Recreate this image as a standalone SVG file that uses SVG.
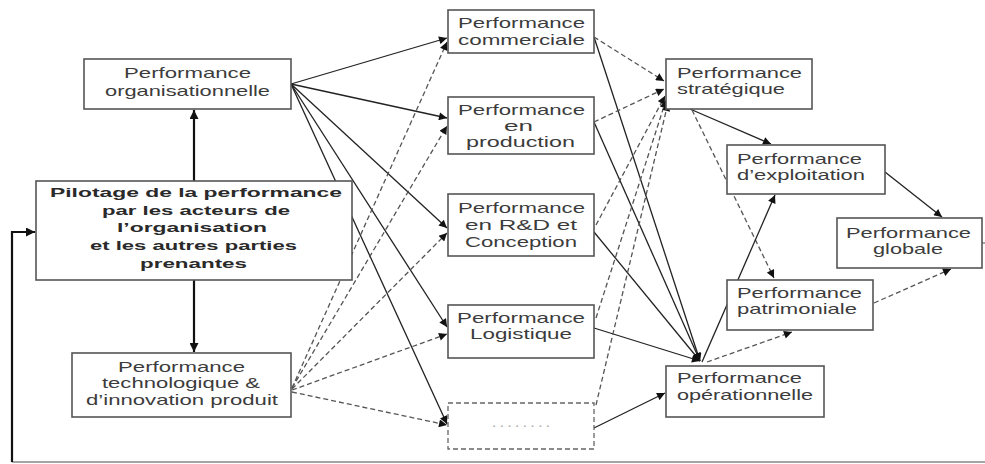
<svg xmlns="http://www.w3.org/2000/svg" width="985" height="464" viewBox="0 0 985 464">
  <style>
    .box { fill: #ffffff; stroke: #555555; stroke-width: 1.6; }
    .dbox { fill: #ffffff; stroke: #666666; stroke-width: 1.3; stroke-dasharray: 5 3; }
    .t { font-family: "Liberation Sans", Arial, sans-serif; font-size: 15px; fill: #3c3c3c; }
    .b { font-family: "Liberation Sans", Arial, sans-serif; font-size: 13.5px; font-weight: bold; fill: #2a2a2a; }
    .dots { font-family: "Liberation Sans", Arial, sans-serif; font-size: 15px; fill: #a8a8a8; }
    .solid { fill: none; stroke: #222222; stroke-width: 1.3; marker-end: url(#ah); }
    .dash { fill: none; stroke: #555555; stroke-width: 1.3; stroke-dasharray: 5 3; marker-end: url(#ah); }
    .thick { fill: none; stroke: #111111; stroke-width: 2.2; }
    .loop { fill: none; stroke: #888888; stroke-width: 1.5; }
  </style>
  <defs>
    <marker id="ah" viewBox="0 0 10 10" refX="10" refY="5" markerWidth="10" markerHeight="8" markerUnits="userSpaceOnUse" orient="auto">
      <path d="M0,0 L10,5 L0,10 z" fill="#111111"/>
    </marker>
    <marker id="ahb" viewBox="0 0 10 10" refX="10" refY="5" markerWidth="10" markerHeight="9" markerUnits="userSpaceOnUse" orient="auto">
      <path d="M0,0 L10,5 L0,10 z" fill="#111111"/>
    </marker>
  </defs>

  <rect width="985" height="464" fill="#ffffff"/>

  <!-- connectors -->
  <g id="connectors">
    <!-- steering box links -->
    <path class="thick" d="M194,181 V110" marker-end="url(#ahb)"/>
    <path class="thick" d="M194,280 V352" marker-end="url(#ahb)"/>
    <!-- feedback loop: right and bottom runs, then up the left side into the steering box -->
    <path class="loop" d="M982,243 H990 M990,462 H12"/>
    <path class="thick" d="M12,462 V232 H35" marker-end="url(#ahb)"/>

    <!-- organisational performance to functional performances -->
    <path class="solid" d="M291,84 L447,38"/>
    <path class="solid" d="M291,84 L447,118"/>
    <path class="solid" d="M291,84 L447,228"/>
    <path class="solid" d="M291,84 L447,327"/>
    <path class="solid" d="M291,84 L447,424"/>

    <!-- technological performance to functional performances -->
    <path class="dash" d="M292,388 L447,42"/>
    <path class="dash" d="M292,388 L447,126"/>
    <path class="dash" d="M292,389 L447,233"/>
    <path class="dash" d="M292,390 L447,334"/>
    <path class="dash" d="M292,392 L447,425"/>

    <!-- functional performances to operational performance -->
    <path class="solid" d="M594,37 L700,361"/>
    <path class="solid" d="M594,122 L700,361"/>
    <path class="solid" d="M594,232 L700,361"/>
    <path class="solid" d="M594,328 L700,361"/>
    <path class="solid" d="M594,428 L665,393"/>

    <!-- functional performances to strategic performance -->
    <path class="dash" d="M594,37 L664,81"/>
    <path class="dash" d="M594,122 L664,89"/>
    <path class="dash" d="M596,225 L665,96"/>
    <path class="dash" d="M596,318 L666,100"/>
    <path class="dash" d="M596,405 L668,103"/>

    <!-- right-hand side -->
    <path class="solid" d="M690,109 L771,144"/>
    <path class="dash" d="M692,110 L774,278"/>
    <path class="solid" d="M702,362 L775,195"/>
    <path class="dash" d="M707,362 L792,332"/>
    <path class="solid" d="M885,172 L942,217"/>
    <path class="dash" d="M874,303 L951,269"/>
  </g>

  <!-- nodes -->
  <g id="perf-organisationnelle">
    <rect class="box" x="84" y="59" width="207" height="50"/>
    <text class="t" x="124" y="78" textLength="127" lengthAdjust="spacingAndGlyphs">Performance</text>
    <text class="t" x="105" y="96" textLength="165" lengthAdjust="spacingAndGlyphs">organisationnelle</text>
  </g>

  <g id="pilotage">
    <rect class="box" x="36" y="181" width="316" height="99"/>
    <text class="b" x="50" y="197" textLength="292" lengthAdjust="spacingAndGlyphs">Pilotage de la performance</text>
    <text class="b" x="102" y="215" textLength="188" lengthAdjust="spacingAndGlyphs">par les acteurs de</text>
    <text class="b" x="117" y="232" textLength="150" lengthAdjust="spacingAndGlyphs">l’organisation</text>
    <text class="b" x="90" y="250" textLength="207" lengthAdjust="spacingAndGlyphs">et les autres parties</text>
    <text class="b" x="140" y="268" textLength="107" lengthAdjust="spacingAndGlyphs">prenantes</text>
  </g>

  <g id="perf-technologique">
    <rect class="box" x="72" y="353" width="219" height="64"/>
    <text class="t" x="118" y="372" textLength="127" lengthAdjust="spacingAndGlyphs">Performance</text>
    <text class="t" x="102" y="388" textLength="158" lengthAdjust="spacingAndGlyphs">technologique &amp;</text>
    <text class="t" x="86" y="405" textLength="192" lengthAdjust="spacingAndGlyphs">d’innovation produit</text>
  </g>

  <g id="perf-commerciale">
    <rect class="box" x="448" y="10" width="146" height="43"/>
    <text class="t" x="458" y="28" textLength="127" lengthAdjust="spacingAndGlyphs">Performance</text>
    <text class="t" x="458" y="45" textLength="127" lengthAdjust="spacingAndGlyphs">commerciale</text>
  </g>

  <g id="perf-production">
    <rect class="box" x="448" y="97" width="146" height="57"/>
    <text class="t" x="458" y="115" textLength="127" lengthAdjust="spacingAndGlyphs">Performance</text>
    <text class="t" x="504" y="131" textLength="29" lengthAdjust="spacingAndGlyphs">en</text>
    <text class="t" x="466" y="147" textLength="109" lengthAdjust="spacingAndGlyphs">production</text>
  </g>

  <g id="perf-rd">
    <rect class="box" x="448" y="194" width="146" height="62"/>
    <text class="t" x="458" y="213" textLength="127" lengthAdjust="spacingAndGlyphs">Performance</text>
    <text class="t" x="465" y="230" textLength="112" lengthAdjust="spacingAndGlyphs">en R&amp;D et</text>
    <text class="t" x="465" y="247" textLength="112" lengthAdjust="spacingAndGlyphs">Conception</text>
  </g>

  <g id="perf-logistique">
    <rect class="box" x="448" y="305" width="146" height="53"/>
    <text class="t" x="457" y="323" textLength="128" lengthAdjust="spacingAndGlyphs">Performance</text>
    <text class="t" x="470" y="339" textLength="102" lengthAdjust="spacingAndGlyphs">Logistique</text>
  </g>

  <g id="perf-autres">
    <rect class="dbox" x="448" y="403" width="146" height="46"/>
    <text class="dots" x="492" y="427" textLength="58" lengthAdjust="spacing">........</text>
  </g>

  <g id="perf-strategique">
    <rect class="box" x="666" y="59" width="146" height="50"/>
    <text class="t" x="677" y="78" textLength="125" lengthAdjust="spacingAndGlyphs">Performance</text>
    <text class="t" x="677" y="94" textLength="108" lengthAdjust="spacingAndGlyphs">stratégique</text>
  </g>

  <g id="perf-exploitation">
    <rect class="box" x="727" y="145" width="158" height="49"/>
    <text class="t" x="737" y="164" textLength="125" lengthAdjust="spacingAndGlyphs">Performance</text>
    <text class="t" x="737" y="180" textLength="128" lengthAdjust="spacingAndGlyphs">d’exploitation</text>
  </g>

  <g id="perf-patrimoniale">
    <rect class="box" x="727" y="280" width="146" height="50"/>
    <text class="t" x="737" y="298" textLength="125" lengthAdjust="spacingAndGlyphs">Performance</text>
    <text class="t" x="737" y="314" textLength="120" lengthAdjust="spacingAndGlyphs">patrimoniale</text>
  </g>

  <g id="perf-operationnelle">
    <rect class="box" x="666" y="366" width="158" height="51"/>
    <text class="t" x="677" y="383" textLength="125" lengthAdjust="spacingAndGlyphs">Performance</text>
    <text class="t" x="677" y="400" textLength="136" lengthAdjust="spacingAndGlyphs">opérationnelle</text>
  </g>

  <g id="perf-globale">
    <rect class="box" x="837" y="218" width="145" height="50"/>
    <text class="t" x="846" y="238" textLength="125" lengthAdjust="spacingAndGlyphs">Performance</text>
    <text class="t" x="873" y="254" textLength="70" lengthAdjust="spacingAndGlyphs">globale</text>
  </g>
</svg>
